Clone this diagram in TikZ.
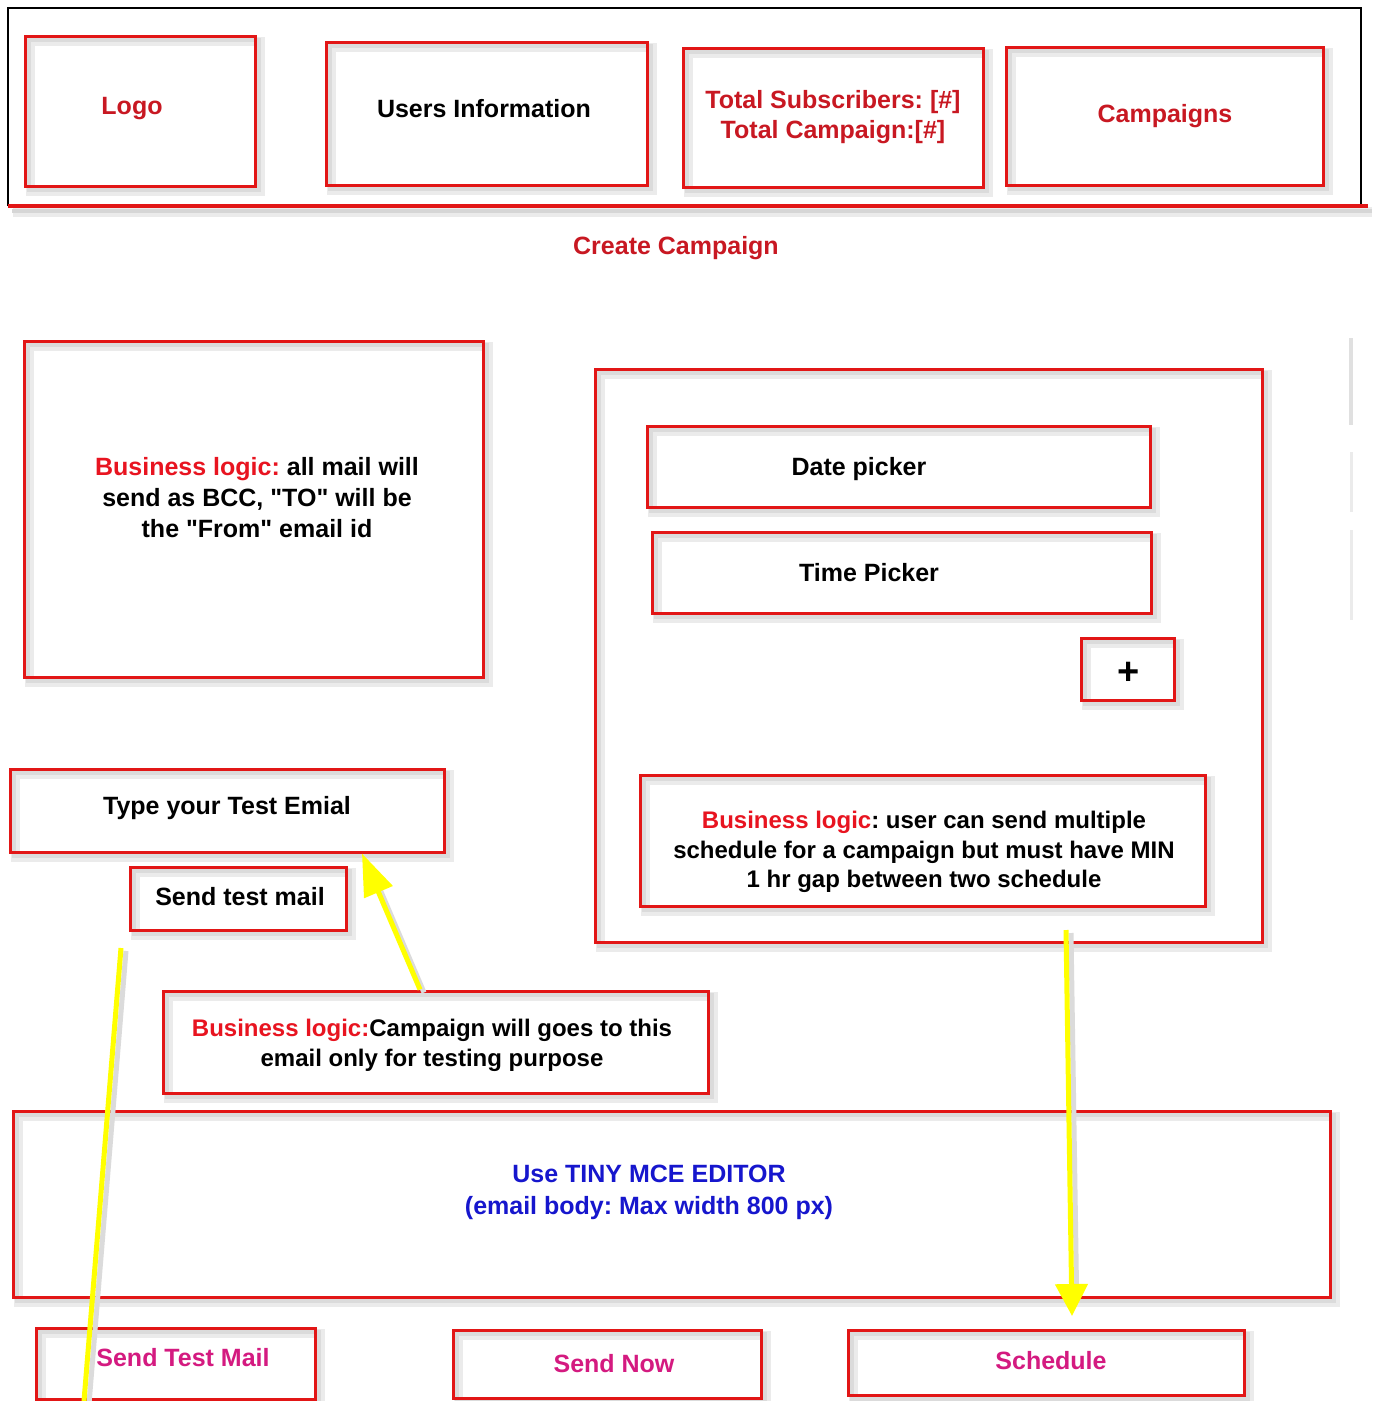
\documentclass[tikz,border=0pt]{standalone}
\usepackage{fontspec}
\setmainfont{Liberation Sans}[Ligatures=TeXOff]
\usetikzlibrary{arrows.meta,fit}
\definecolor{boxred}{RGB}{226,22,22}
\definecolor{hdred}{RGB}{200,24,34}
\definecolor{blred}{RGB}{232,20,32}
\definecolor{btnmag}{RGB}{212,26,128}
\definecolor{edblue}{RGB}{22,22,205}
\definecolor{arrowyel}{RGB}{255,255,0}
\newcommand\blr[1]{\textcolor{blred}{#1}}
\frenchspacing
\begin{document}
\begin{tikzpicture}[x=1pt,y=-1pt,
  box/.style={draw=boxred, line width=3pt, inner sep=0pt,
    preaction={draw=black!8, line width=9pt, transform canvas={xshift=5pt,yshift=-5pt}},
    preaction={draw=black!14, line width=4pt, transform canvas={xshift=4pt,yshift=-4pt}}},
  txt/.style={font=\fontsize{25}{30}\selectfont\bfseries, align=center, inner sep=0pt, yshift=-3pt},
  yarrow/.style={draw=arrowyel, line width=5pt},
]
\useasboundingbox[fill=white] (0,0) rectangle (1375,1401);

% faint shadow marks at the right edge
\draw[black!12, line width=4pt] (1351,338) -- (1351,425);
\draw[black!8, line width=3pt] (1351,452) -- (1351,512);
\draw[black!8, line width=3pt] (1351,530) -- (1351,620);

% header frame
\draw[black!8, line width=10pt] (13,212) -- (1372,212);
\draw[black!16, line width=4pt] (12,211) -- (1372,211);
\draw[black, line width=2.5pt] (8,206) -- (8,8) -- (1361,8) -- (1361,206);
\draw[boxred, line width=4.5pt] (8,206) -- (1368,206);

\node[box, fit={(25,36) (255,186)}] (logo) {};
\node[txt, text=hdred] (logoT) at (132,106) {Logo};
\node[box, fit={(326,42) (647,185)}] (users) {};
\node[txt] (usersT) at (484,106) {Users Information};
\node[box, fit={(683,48) (983,187)}] (totals) {};
\node[txt, text=hdred] (totalsT) at (833,114) {Total Subscribers: [\#]\\Total Campaign:[\#]};
\node[box, fit={(1006,47) (1323,185)}] (camps) {};
\node[txt, text=hdred] (campsT) at (1165,113) {Campaigns};

\node[txt, text=hdred] (create) at (676,245) {Create Campaign};

% left business logic
\node[box, fit={(24,341) (483,677)}] (bl1) {};
\node[txt, font=\fontsize{25}{31}\selectfont\bfseries] (bl1T) at (257,495) {\blr{Business logic:} all mail will\\send as BCC, "TO" will be\\the "From" email id};

% schedule panel
\node[box, fit={(595,369) (1262,942)}] (panel) {};
\node[box, fit={(647,426) (1150,507)}] (date) {};
\node[txt] (dateT) at (859,466) {Date picker};
\node[box, fit={(652,532) (1151,613)}] (time) {};
\node[txt] (timeT) at (869,570) {Time Picker};
\node[box, fit={(1081,638) (1174,700)}] (plus) {};
\node[txt, font=\fontsize{38}{40}\selectfont\bfseries] (plusT) at (1129,670) {+};
\node[box, fit={(640,775) (1205,906)}] (bl2) {};
\node[txt, font=\fontsize{24}{29.5}\selectfont\bfseries] (bl2T) at (924,849) {\blr{Business logic}: user can send multiple\\schedule for a campaign but must have MIN\\1 hr gap between two schedule};

% test mail
\node[box, fit={(10,769) (444,852)}] (temail) {};
\node[txt] (temailT) at (227,805) {Type your Test Emial};
\node[box, fit={(130,867) (346,930)}] (stest) {};
\node[txt] (stestT) at (240,894) {Send test mail};
\node[box, fit={(163,991) (708,1093)}] (bl3) {};
\node[txt, font=\fontsize{24}{30}\selectfont\bfseries] (bl3T) at (432,1042) {\blr{Business logic:}Campaign will goes to this\\email only for testing purpose};

% editor
\node[box, fit={(13,1111) (1330,1297)}] (editor) {};
\node[txt, text=edblue, font=\fontsize{25}{32}\selectfont\bfseries] (editorT) at (649,1189) {Use TINY MCE EDITOR\\(email body: Max width 800 px)};

% buttons
\node[box, fit={(36,1328) (315,1399)}] (btest) {};
\node[txt, text=btnmag] (btestT) at (183,1355) {Send Test Mail};
\node[box, fit={(453,1330) (761,1398)}] (bnow) {};
\node[txt, text=btnmag] (bnowT) at (614,1361) {Send Now};
\node[box, fit={(848,1330) (1244,1395)}] (bsched) {};
\node[txt, text=btnmag] (bschedT) at (1051,1358) {Schedule};

% yellow connectors
\coordinate (a1s) at (420,0 |- bl3.north);
\coordinate (a1e) at (362,0 |- temail.south);
\draw[black!14, line width=5pt, shorten >=30pt, transform canvas={xshift=4pt,yshift=-3pt}] (a1s) -- (a1e);
\draw[yarrow, -{Triangle[width=30pt,length=42pt]}] (a1s) -- (a1e);
\coordinate (a2s) at (1066,930);
\coordinate (a2e) at (1072,1316);
\draw[black!14, line width=5pt, shorten >=25pt, transform canvas={xshift=5pt,yshift=-3pt}] (a2s) -- (a2e);
\draw[yarrow, -{Triangle[width=32pt,length=32pt]}] (a2s) -- (a2e);
\coordinate (a3s) at (121,948);
\coordinate (a3e) at (84,1401);
\draw[black!14, line width=5pt, transform canvas={xshift=5pt,yshift=-3pt}] (a3s) -- (a3e);
\draw[yarrow] (a3s) -- (a3e);
\end{tikzpicture}
\end{document}
